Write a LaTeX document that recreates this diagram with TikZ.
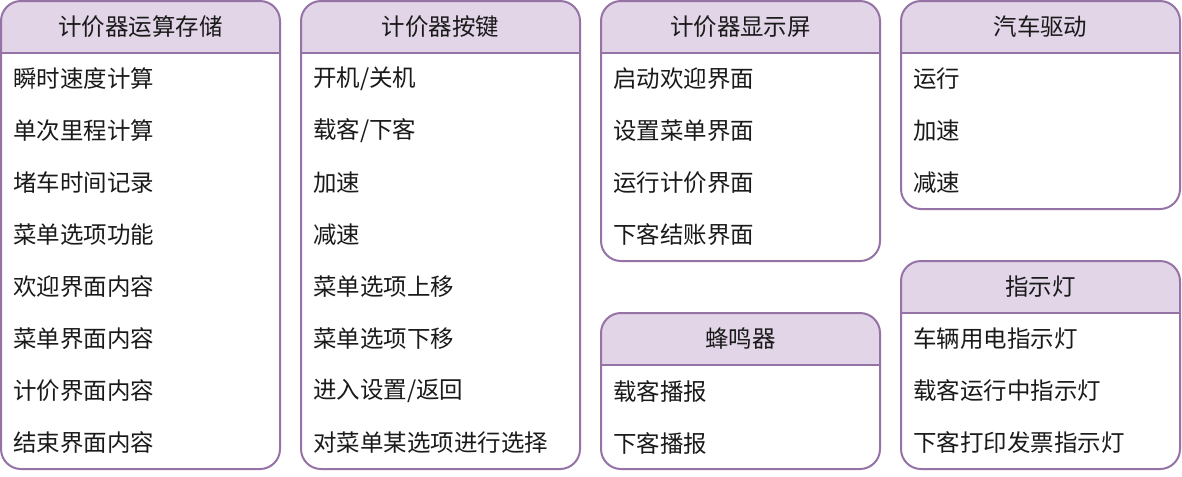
\documentclass[tikz,border=0pt]{standalone}
\usepackage{fontspec}
\setmainfont{Noto Sans CJK SC}
\definecolor{hdr}{HTML}{E1D5E7}
\definecolor{bdr}{HTML}{9673A6}
\definecolor{txt}{HTML}{1A1A1A}
\tikzset{
  boxline/.style={draw=bdr, line width=1.5pt},
  titletext/.style={text=txt, font=\fontsize{17.6}{20}\selectfont, inner sep=0pt},
  itemtext/.style={text=txt, font=\fontsize{17.6}{20}\selectfont, inner sep=0pt, anchor=west},
}
% #1 name, #2 left, #3 top, #4 title, #5 number of rows, #6 items
\newcommand\umlbox[6]{%
  \pgfmathsetmacro\bxr{#2+279}%
  \pgfmathsetmacro\bxb{#3+52+52*#5}%
  \pgfmathsetmacro\bxh{#3+52}%
  \begin{scope}
    \clip[rounded corners=15pt] (#2,#3) rectangle (\bxr,\bxb);
    \fill[white] (#2,#3) rectangle (\bxr,\bxb);
    \fill[hdr] (#2,#3) rectangle (\bxr,\bxh);
  \end{scope}
  \coordinate (#1-hl) at (#2,\bxh);
  \coordinate (#1-hr) at (\bxr,\bxh);
  \draw[boxline] (#1-hl) -- (#1-hr);
  \draw[boxline, rounded corners=15pt] (#2,#3) rectangle (\bxr,\bxb);
  \node[titletext] (#1-title) at (#2+139.5,#3+26) {#4};
  \foreach \t [count=\i] in {#6} {
    \node[itemtext] (#1-\i) at (#2+12,#3+52*\i+26) {\t};
  }%
}
\begin{document}
\begin{tikzpicture}[x=0.75pt,y=-0.75pt]
\useasboundingbox (0,0) rectangle (1182,476);
\umlbox{calc}{1}{1}{计价器运算存储}{8}{瞬时速度计算,单次里程计算,堵车时间记录,菜单选项功能,欢迎界面内容,菜单界面内容,计价界面内容,结束界面内容}
\umlbox{keys}{301}{1}{计价器按键}{8}{开机/关机,载客/下客,加速,减速,菜单选项上移,菜单选项下移,进入设置/返回,对菜单某选项进行选择}
\umlbox{disp}{601}{1}{计价器显示屏}{4}{启动欢迎界面,设置菜单界面,运行计价界面,下客结账界面}
\umlbox{buzz}{601}{313}{蜂鸣器}{2}{载客播报,下客播报}
\umlbox{car}{901}{1}{汽车驱动}{3}{运行,加速,减速}
\umlbox{led}{901}{261}{指示灯}{3}{车辆用电指示灯,载客运行中指示灯,下客打印发票指示灯}
\end{tikzpicture}
\end{document}
